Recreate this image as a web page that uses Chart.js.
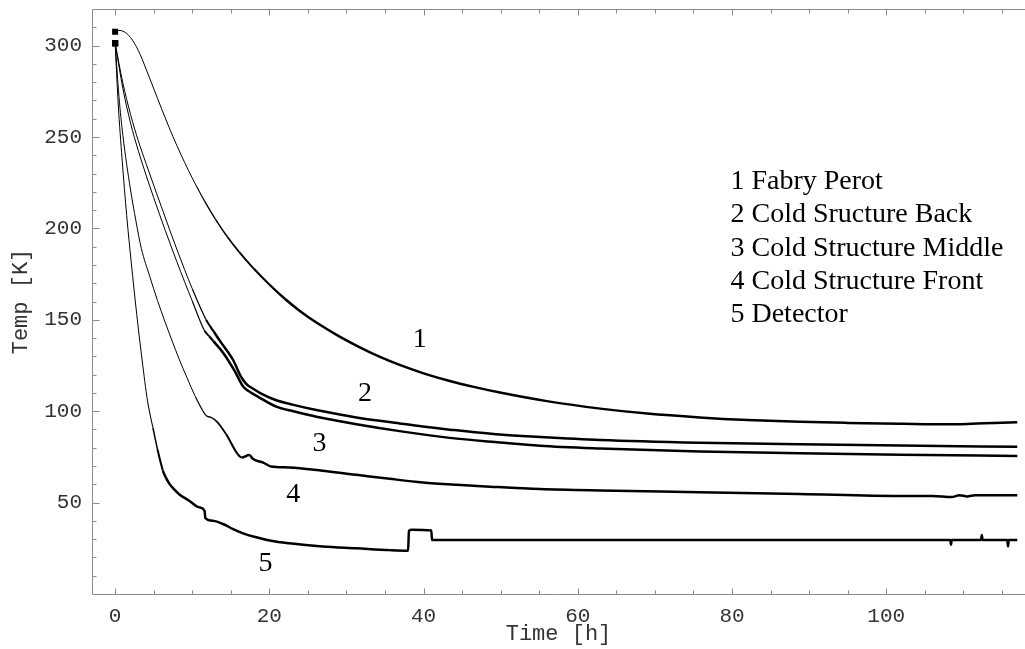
<!DOCTYPE html>
<html>
<head>
<meta charset="utf-8">
<script src="https://cdn.jsdelivr.net/npm/chart.js@4.4.1/dist/chart.umd.min.js"></script>
<style>
    html, body { margin: 0; padding: 0; background: #fff; overflow: hidden; }
    #wrap { width: 1025px; height: 649px; position: relative; }
</style>
</head>
<body>
<div id="wrap"><canvas id="chart"></canvas></div>
<script>
// values: time [h] / temperature [K]
const fabryTime = [0, 0.5, 1, 1.5, 2, 2.5, 3, 3.5, 4.5, 5.5, 6.5, 7.5, 8.5, 9.5, 10.5, 11.6, 13, 14.5, 16.1, 18, 20, 22, 24, 26.1, 29, 32, 34.5, 36.9, 40, 43.4, 46.5, 49.9, 56, 62.9, 69, 75.8, 82, 88.8, 95, 101.8, 105, 108, 111, 114, 117];
const fabryTemp = [307.5, 308.3, 307.9, 306.6, 304.4, 301.3, 297.4, 292.6, 281.9, 271.1, 260.4, 250.2, 240.7, 231.8, 223.4, 214.9, 205.1, 195.7, 187.0, 177.9, 169.3, 161.5, 154.7, 148.5, 141.1, 134.4, 129.4, 125.3, 120.7, 116.5, 113.3, 110.2, 105.5, 101.4, 98.7, 96.6, 95.2, 94.2, 93.6, 93.1, 92.9, 92.8, 93.1, 93.6, 94.0];

const backTime = [0, 1, 2, 3, 4, 6, 8, 10, 11.8, 12.3, 12.8, 13.5, 15.3, 16.3, 17, 18, 19, 20.9, 23, 26.1, 31.3, 36.9, 39.9, 43.4, 49.9, 55.1, 62.9, 75.8, 88.8, 101.8, 117];
const backTemp = [301.3, 279.6, 262.3, 248, 235.6, 211.8, 188.6, 167, 150, 146.5, 143.5, 139, 128, 119, 115, 112, 109.5, 106, 103.6, 100.6, 96.6, 93.3, 91.6, 89.9, 87.2, 85.9, 84.3, 82.8, 81.9, 81.2, 80.5];

const middleTime = [0, 1, 2, 3, 5, 8, 10, 11.6, 12.2, 12.7, 14, 15.5, 16.6, 17.5, 18.5, 20.9, 23, 26.1, 31.3, 36.9, 43.4, 49.9, 55.1, 62.9, 75.8, 88.8, 101.8, 117];
const middleTemp = [301.3, 276.6, 257.6, 242.6, 216.8, 181.8, 160.3, 144, 141, 138.5, 132, 122, 113.5, 110.5, 108, 102.5, 100.1, 97.0, 92.9, 89.1, 85.4, 82.9, 81.1, 79.6, 77.9, 77.0, 76.2, 75.5];

const frontTime = [0, 0.5, 1, 1.5, 2, 2.7, 3.4, 4.5, 5.5, 6.5, 7.3, 8.3, 9.3, 10.4, 11.4, 11.8, 12.5, 13.1, 14.4, 15.9, 16.4, 17.4, 17.9, 19.2, 20.2, 22.6, 26.9, 31.3, 35.6, 39.9, 44.3, 48.6, 55.1, 62.9, 75.8, 88.8, 101.8, 106, 108.5, 109.5, 110.5, 111.5, 117];
const frontTemp = [301.3, 272, 251, 235, 221, 204, 189, 173.6, 160.5, 148.5, 139.5, 128.5, 118.5, 108, 100, 97.6, 96.5, 94.7, 87.4, 76.5, 74.7, 76.0, 73.8, 71.9, 69.8, 69.2, 67.4, 65.2, 63.0, 61.0, 59.7, 58.7, 57.4, 56.6, 55.7, 54.7, 53.6, 53.6, 53.0, 54.0, 53.4, 54.0, 54.0];

const detectorTime = [0, 0.4, 0.9, 1.5, 2.1, 2.8, 3.5, 4.2, 4.9, 5.5, 6.2, 6.6, 7.0, 7.6, 8.3, 9.6, 10.9, 11.6, 11.7, 12.8, 14.0, 15.3, 16.6, 18.3, 20.2, 22.6, 26.9, 31.3, 35.6, 38.0, 38.1, 38.5, 41.0, 41.1, 60, 80, 100, 108.3, 108.4, 108.5, 112.3, 112.4, 112.5, 115.7, 115.8, 115.9, 117];
const detectorTemp = [301.3, 268, 238, 207, 181, 153, 128, 105.6, 91, 79, 67.4, 63.5, 60.5, 57.5, 54.6, 51, 47.4, 45.5, 41.5, 40, 38.3, 35.5, 33.2, 31, 29.1, 27.7, 26.0, 25.0, 24.0, 23.7, 34.6, 35.2, 34.8, 29.5, 29.5, 29.5, 29.6, 29.6, 27, 29.6, 29.6, 32.3, 29.6, 29.6, 26, 29.6, 29.6];

// axis ticks
const xTicks = [0, 20, 40, 60, 80, 100];
const yTicks = [50, 100, 150, 200, 250, 300];

// curve numbers written next to the lines
const curveLabels = ['1', '2', '3', '4', '5'];
const curveLabelTime = [39.5, 32.4, 26.5, 23.1, 19.5];
const curveLabelTemp = [139, 109.4, 82.5, 54.2, 16.4];

// text legend
const legendLines = ['1 Fabry Perot', '2 Cold Sructure Back', '3 Cold Structure Middle', '4 Cold Structure Front', '5 Detector'];
const legendTime = 79.8;
const legendTemp = 225.6;

// sparse samples during the fast drop look thin; line thickens over this time window
const thinRamp = [[10, 22], [10.5, 13], [10.5, 13], [10, 17], [4.5, 6.5]];

const monoFont = 'Liberation Mono, DejaVu Sans Mono, monospace';
const serifFont = 'Liberation Serif, DejaVu Serif, serif';

function makeSet(label, times, temps, idx) {
    const [t0, t1] = thinRamp[idx];
    return {
        label,
        data: times.map((t, i) => ({ x: t, y: temps[i] })),
        borderColor: '#000',
        backgroundColor: '#000',
        borderWidth: 2.5,
        pointStyle: 'rect',
        pointRadius: c => c.dataIndex === 0 ? 2.5 : 0,
        pointHoverRadius: 0,
        cubicInterpolationMode: 'monotone',
        fill: false,
        clip: false,
        segment: {
            borderWidth: c => {
                const mid = (c.p0.parsed.x + c.p1.parsed.x) / 2;
                const f = Math.min(1, Math.max(0, (mid - t0) / (t1 - t0)));
                return 1 + 1.5 * f;
            }
        }
    };
}

const frameTicks = {
    id: 'frameTicks',
    afterDraw(chart) {
        const { ctx, chartArea: a, scales: { x, y } } = chart;
        ctx.save();
        ctx.strokeStyle = '#8a8a8a';
        ctx.lineWidth = 1;
        ctx.beginPath();
        const L = Math.round(a.left) + 0.5, B = Math.round(a.bottom) + 0.5, T = Math.round(a.top) + 0.5;
        ctx.moveTo(a.right, T); ctx.lineTo(L, T); ctx.lineTo(L, B); ctx.lineTo(a.right, B);
        for (let v = 0; v <= 115; v += 5) {
            const px = Math.round(x.getPixelForValue(v)) + 0.5;
            const len = v % 20 === 0 ? 6 : 4;
            ctx.moveTo(px, B); ctx.lineTo(px, B - len);
            ctx.moveTo(px, T); ctx.lineTo(px, T + len);
        }
        for (let v = 10; v <= 310; v += 10) {
            const py = Math.round(y.getPixelForValue(v)) + 0.5;
            const len = v % 50 === 0 ? 7 : 4;
            ctx.moveTo(L, py); ctx.lineTo(L + len, py);
        }
        ctx.stroke();
        ctx.restore();
    }
};

const textNotes = {
    id: 'textNotes',
    afterDatasetsDraw(chart) {
        const { ctx, scales: { x, y } } = chart;
        ctx.save();
        ctx.fillStyle = '#000';
        ctx.font = '28px ' + serifFont;
        ctx.textBaseline = 'middle';
        ctx.textAlign = 'center';
        curveLabels.forEach((s, i) => {
            ctx.fillText(s, x.getPixelForValue(curveLabelTime[i]), y.getPixelForValue(curveLabelTemp[i]));
        });
        ctx.textAlign = 'left';
        const lx = x.getPixelForValue(legendTime);
        const ly = y.getPixelForValue(legendTemp);
        legendLines.forEach((s, i) => ctx.fillText(s, lx, ly + i * 33.3));
        ctx.restore();
    }
};

const ctx = document.getElementById('chart').getContext('2d');
new Chart(ctx, {
    type: 'line',
    data: {
        datasets: [
            makeSet('Fabry Perot', fabryTime, fabryTemp, 0),
            makeSet('Cold Sructure Back', backTime, backTemp, 1),
            makeSet('Cold Structure Middle', middleTime, middleTemp, 2),
            makeSet('Cold Structure Front', frontTime, frontTemp, 3),
            makeSet('Detector', detectorTime, detectorTemp, 4)
        ]
    },
    options: {
        animation: false,
        responsive: true,
        maintainAspectRatio: false,
        layout: { autoPadding: false, padding: { top: 9, right: 0, left: 0, bottom: 0 } },
        plugins: {
            legend: { display: false },
            tooltip: { enabled: false }
        },
        scales: {
            x: {
                type: 'linear',
                min: -3,
                max: 118,
                grid: { display: false, drawTicks: false },
                border: { display: false },
                afterBuildTicks: s => { s.ticks = xTicks.map(v => ({ value: v })); },
                afterFit: s => { s.height = 55; s.paddingLeft = 0; s.paddingRight = 0; },
                ticks: { font: { family: monoFont, size: 21 }, color: '#333', padding: 10, maxRotation: 0, autoSkip: false },
                title: { display: true, text: 'Time [h]', font: { family: monoFont, size: 22 }, color: '#333', padding: { top: 0, bottom: 2 } }
            },
            y: {
                type: 'linear',
                min: 0,
                max: 320,
                grid: { display: false, drawTicks: false },
                border: { display: false },
                afterBuildTicks: s => { s.ticks = yTicks.map(v => ({ value: v })); },
                afterFit: s => { s.width = 92; s.paddingTop = 0; s.paddingBottom = 0; },
                ticks: { font: { family: monoFont, size: 21 }, color: '#333', padding: 10 },
                title: { display: true, text: 'Temp [K]', font: { family: monoFont, size: 22 }, color: '#333', padding: { top: 8, bottom: 0 } }
            }
        }
    },
    plugins: [frameTicks, textNotes]
});
</script>
</body>
</html>
